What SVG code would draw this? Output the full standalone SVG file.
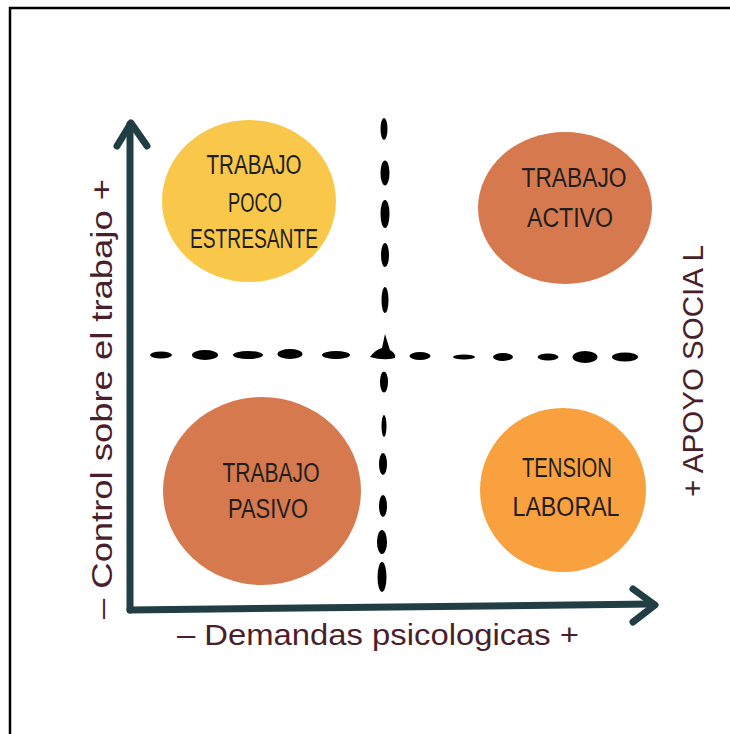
<svg xmlns="http://www.w3.org/2000/svg" width="730" height="734" viewBox="0 0 730 734">
<style>
.frame{fill:none;stroke:#000;stroke-width:2.5}
.axis{fill:none;stroke:#213e45;stroke-width:7;stroke-linecap:round;stroke-linejoin:round}
.dash{fill:#000}
.lbl{font-family:"Liberation Sans",Arial,sans-serif;font-size:27px;fill:#1e1e1e;text-anchor:middle}
.ax{font-family:"Liberation Sans",Arial,sans-serif;font-size:29px;fill:#4a1f2c;text-anchor:middle}
</style>
<rect width="730" height="734" fill="#fff"/>
<path class="frame" d="M10,734 V8 H730"/>

<g id="connectors">
  <g id="axes">
    <path class="axis" d="M130,610 L130,124"/>
    <path class="axis" d="M117,146 L131,123 L147,146"/>
    <path class="axis" d="M130,610 L652,604"/>
    <path class="axis" d="M633,589 L655,605 L633,622"/>
  </g>
  <g id="divider-h">
    <ellipse class="dash" cx="161" cy="355" rx="11" ry="3.5"/>
    <ellipse class="dash" cx="205" cy="355" rx="13" ry="5"/>
    <ellipse class="dash" cx="248" cy="355" rx="15" ry="4"/>
    <ellipse class="dash" cx="290" cy="354" rx="12.5" ry="5"/>
    <ellipse class="dash" cx="336" cy="355" rx="14" ry="4"/>
    <path class="dash" d="M370,357 Q375,350 382,348 L385,334 Q388,344 390,350 Q396,353 395,358 Q384,361 370,357 Z"/>
    <ellipse class="dash" cx="420" cy="356" rx="10.5" ry="4"/>
    <ellipse class="dash" cx="464" cy="357" rx="11" ry="2.5"/>
    <ellipse class="dash" cx="503" cy="357" rx="10" ry="4"/>
    <ellipse class="dash" cx="548" cy="357" rx="10.5" ry="3.5"/>
    <ellipse class="dash" cx="585" cy="357" rx="12.5" ry="6"/>
    <ellipse class="dash" cx="625" cy="357" rx="13" ry="4.5"/>
  </g>
  <g id="divider-v">
    <ellipse class="dash" cx="384" cy="129" rx="3.5" ry="11"/>
    <ellipse class="dash" cx="385" cy="173" rx="4.5" ry="12.5"/>
    <ellipse class="dash" cx="385" cy="214" rx="4.5" ry="14"/>
    <ellipse class="dash" cx="385" cy="255" rx="4" ry="12"/>
    <ellipse class="dash" cx="385" cy="300" rx="3.5" ry="13"/>
    <ellipse class="dash" cx="384" cy="382" rx="4" ry="10.5"/>
    <ellipse class="dash" cx="384" cy="426" rx="2.5" ry="11"/>
    <ellipse class="dash" cx="383" cy="464" rx="4" ry="11"/>
    <ellipse class="dash" cx="383" cy="506" rx="4" ry="11"/>
    <ellipse class="dash" cx="382" cy="542" rx="5" ry="12"/>
    <ellipse class="dash" cx="382" cy="577" rx="4.5" ry="15"/>
  </g>
</g>

<g id="node-poco-estresante">
  <ellipse cx="249" cy="201" rx="87" ry="81" fill="#f9c84a"/>
  <text class="lbl" x="254" y="174" textLength="95" lengthAdjust="spacingAndGlyphs">TRABAJO</text>
  <text class="lbl" x="255" y="212" textLength="54" lengthAdjust="spacingAndGlyphs">POCO</text>
  <text class="lbl" x="254" y="248" textLength="128" lengthAdjust="spacingAndGlyphs">ESTRESANTE</text>
</g>

<g id="node-activo">
  <ellipse cx="565" cy="208" rx="87" ry="76" fill="#d6794f"/>
  <text class="lbl" x="574" y="187" textLength="105" lengthAdjust="spacingAndGlyphs">TRABAJO</text>
  <text class="lbl" x="570" y="227" textLength="86" lengthAdjust="spacingAndGlyphs">ACTIVO</text>
</g>

<g id="node-pasivo">
  <ellipse cx="262" cy="491" rx="99" ry="94" fill="#d6794f"/>
  <text class="lbl" x="271" y="482" textLength="97" lengthAdjust="spacingAndGlyphs">TRABAJO</text>
  <text class="lbl" x="268" y="518" textLength="80" lengthAdjust="spacingAndGlyphs">PASIVO</text>
</g>

<g id="node-tension">
  <ellipse cx="563" cy="490" rx="83" ry="82" fill="#f9a03f"/>
  <text class="lbl" x="567" y="477" textLength="90" lengthAdjust="spacingAndGlyphs">TENSION</text>
  <text class="lbl" x="566" y="516" textLength="107" lengthAdjust="spacingAndGlyphs">LABORAL</text>
</g>

<g id="labels">
  <text class="ax" x="378" y="645" textLength="402" lengthAdjust="spacingAndGlyphs">– Demandas psicologicas +</text>
  <text class="ax" transform="translate(112,399) rotate(-90)" x="0" y="0" textLength="440" lengthAdjust="spacingAndGlyphs">– Control sobre el trabajo +</text>
  <text class="ax" transform="translate(703,371) rotate(-90)" x="0" y="0" textLength="252" lengthAdjust="spacingAndGlyphs">+ APOYO SOCIA L</text>
</g>
</svg>
